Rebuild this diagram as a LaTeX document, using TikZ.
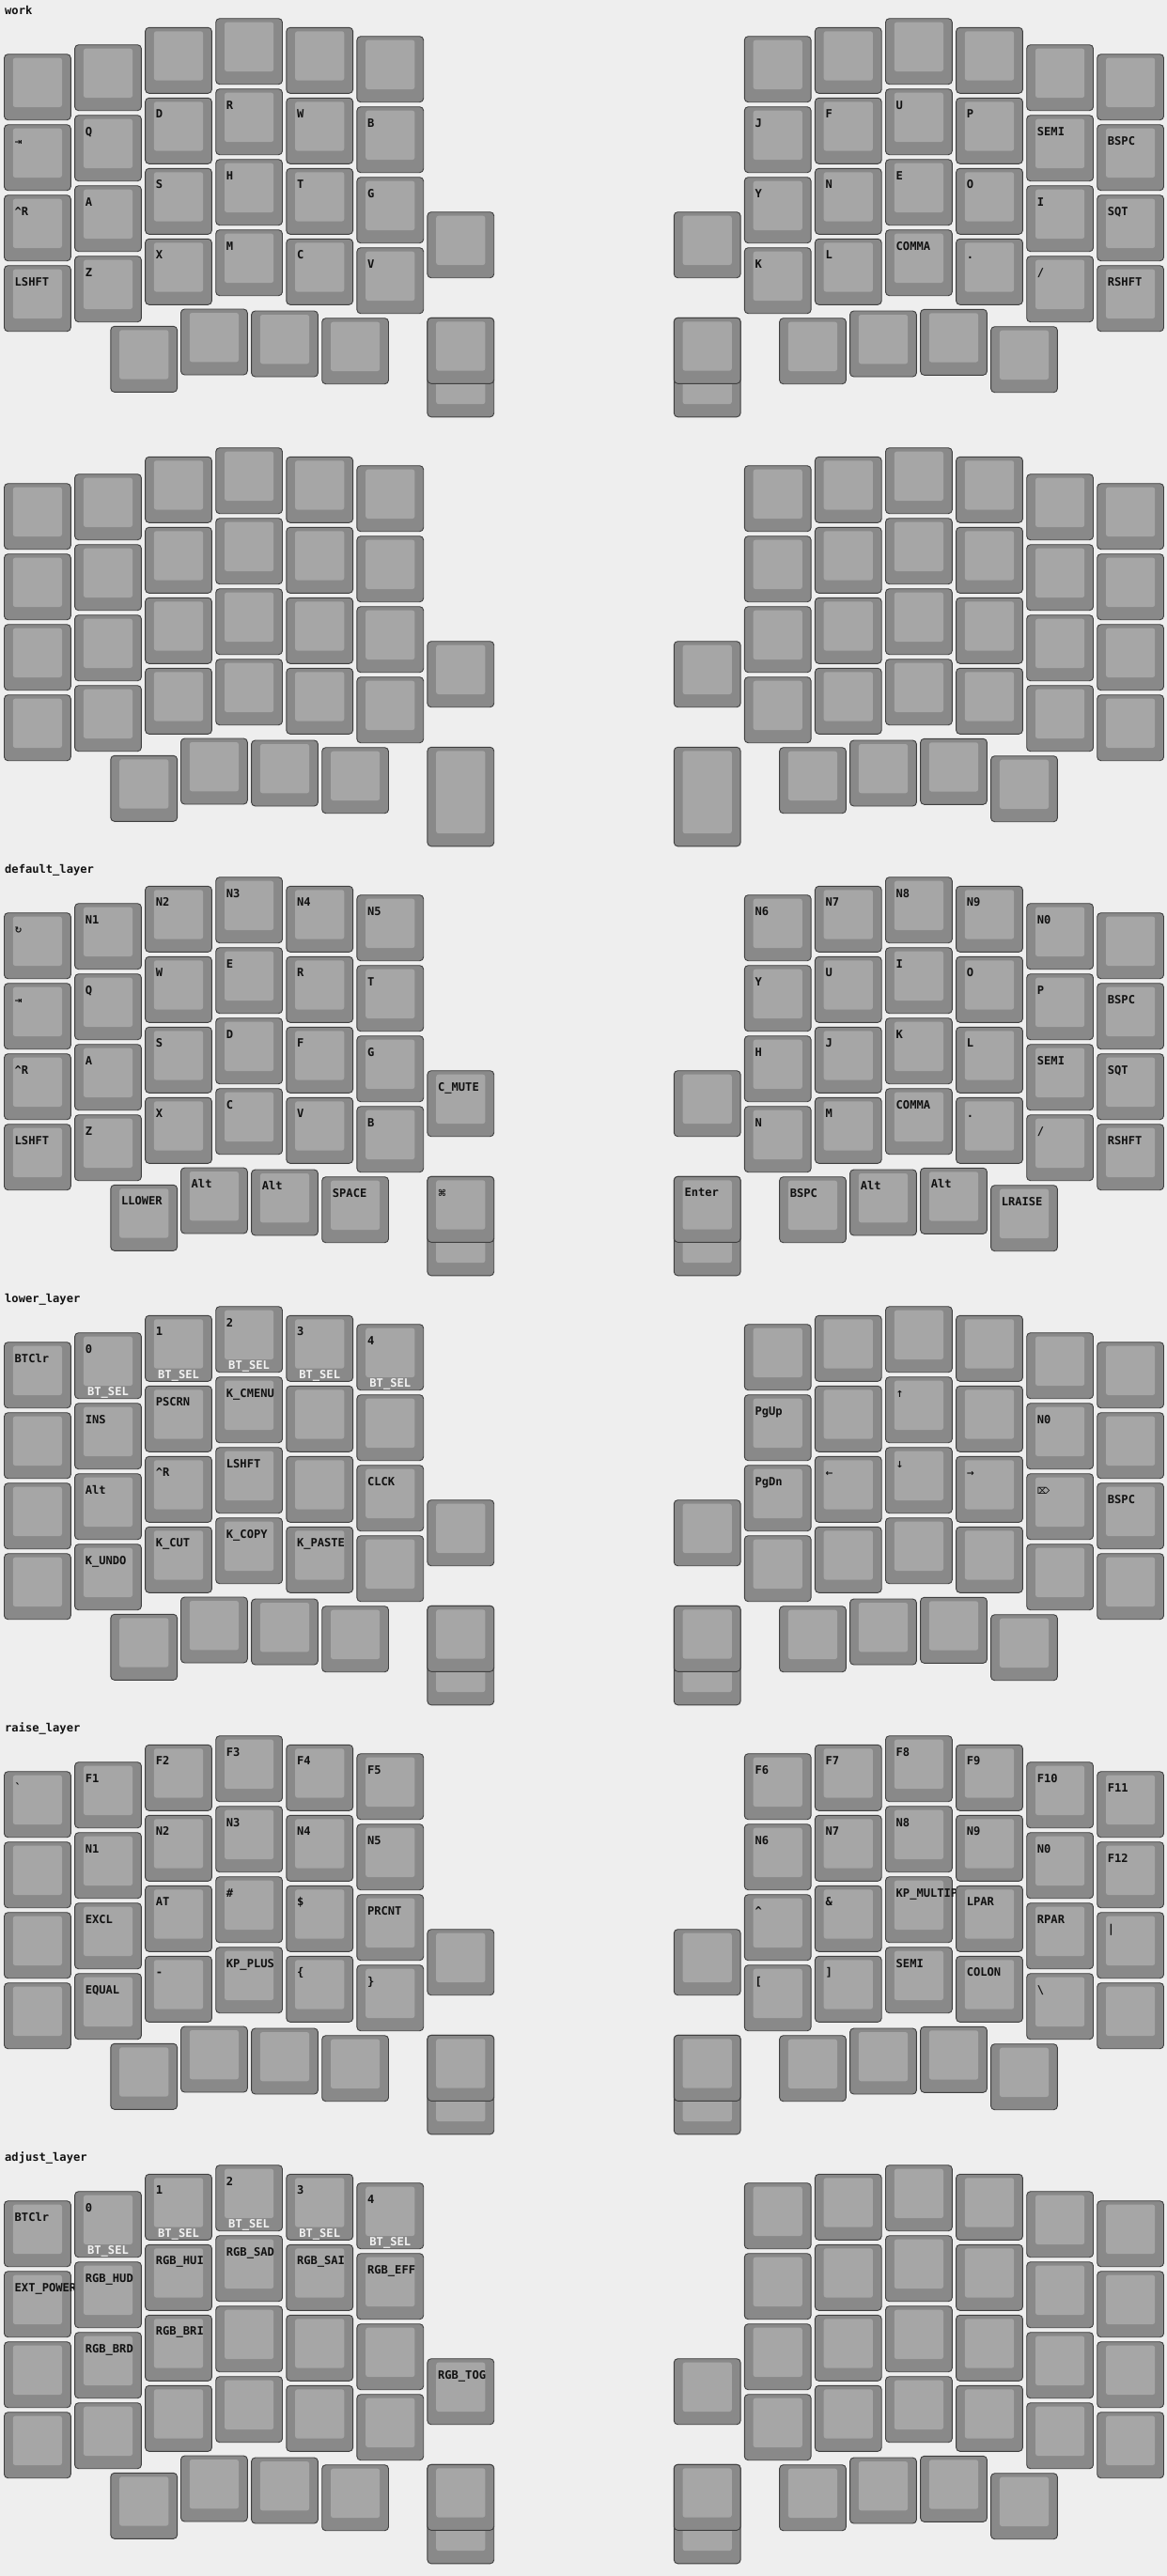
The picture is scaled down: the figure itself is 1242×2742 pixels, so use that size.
\documentclass[tikz,border=0pt]{standalone}
\usepackage{fontspec}
\newfontfamily\keyfont{DejaVu Sans Mono}
\newfontfamily\symfont{DejaVu Sans}
\definecolor{kbback}{HTML}{EEEEEE}
\definecolor{kbouter}{HTML}{898989}
\definecolor{kbinner}{HTML}{A6A6A6}
\definecolor{kbedge}{HTML}{404040}
\definecolor{kbtext}{HTML}{111111}
\definecolor{kbsel}{HTML}{F2F2F2}

\tikzset{
  keycap/.style={draw=kbedge, fill=kbouter, line width=0.9pt, rounded corners=4pt},
  keytop/.style={fill=kbinner, rounded corners=2.5pt},
  keylbl/.style={anchor=base west, inner sep=0pt, text=kbtext,
    font=\keyfont\bfseries\fontsize{12.1}{14}\selectfont},
  sellbl/.style={anchor=base, inner sep=0pt, text=kbsel,
    font=\keyfont\bfseries\fontsize{12.1}{14}\selectfont},
  layername/.style={anchor=base west, inner sep=0pt, text=kbtext,
    font=\keyfont\bfseries\fontsize{12.1}{14}\selectfont}
}

% one key: name, x, y, height, label
\newcommand{\keycap}[5]{%
  \draw[keycap] (#2,#3) rectangle ++(70.8,#4);
  \fill[keytop] (#2+9.3,#3+4) rectangle ++(52.2,#4-17.7);
  \node[keylbl] (#1) at (#2+11,#3+21.3) {#5};}
% four keys of a column
\newcommand{\keycol}[7]{%
  \keycap{#1-0}{#2}{#3}{70}{#4}%
  \keycap{#1-1}{#2}{#3+75}{70}{#5}%
  \keycap{#1-2}{#2}{#3+150}{70}{#6}%
  \keycap{#1-3}{#2}{#3+225}{70}{#7}}
% bluetooth profile tag under a key
\newcommand{\btsel}[3]{\node[sellbl] (#1) at (#2+35.4,#3+67) {BT\_SEL};}
% thumb keys: prefix, extra, four thumbs
\newcommand{\thumbsleft}[6]{%
  \keycap{#1-x}{454.9}{225.7}{70}{#2}%
  \keycap{#1-1}{117.8}{347.3}{70}{#3}%
  \keycap{#1-2}{192.5}{329}{70}{#4}%
  \keycap{#1-3}{267.6}{331}{70}{#5}%
  \keycap{#1-4}{342.7}{338.7}{70}{#6}%
  \keycap{#1-big}{454.9}{338.3}{105.5}{}}
\newcommand{\thumbsright}[6]{%
  \keycap{#1-x}{717.3}{225.7}{70}{#2}%
  \keycap{#1-1}{829.6}{338.7}{70}{#3}%
  \keycap{#1-2}{904.6}{331}{70}{#4}%
  \keycap{#1-3}{979.6}{329.3}{70}{#5}%
  \keycap{#1-4}{1054.6}{347.7}{70}{#6}%
  \keycap{#1-big}{717.3}{338.3}{105.5}{}}
\newcommand{\kbsym}[1]{{\symfont\fontsize{9.5}{10}\selectfont #1}}

\begin{document}
\begin{tikzpicture}[x=1pt, y=-1pt]
  \useasboundingbox (0,0) rectangle (1242,2742);
  \fill[kbback] (0,0) rectangle (1242,2742);

  % work
  \node[layername] (work) at (5,15) {work};
  \keycol{work-l0}{4.5}{57.7}{}{\kbsym{⇥}}{\textasciicircum R}{LSHFT}
  \keycol{work-l1}{79.6}{47.7}{}{Q}{A}{Z}
  \keycol{work-l2}{154.6}{29.3}{}{D}{S}{X}
  \keycol{work-l3}{229.7}{19.7}{}{R}{H}{M}
  \keycol{work-l4}{304.8}{29.3}{}{W}{T}{C}
  \keycol{work-l5}{379.9}{38.7}{}{B}{G}{V}
  \thumbsleft{work-lt}{}{}{}{}{}
  \keycap{work-lh}{454.9}{338.3}{70}{}
  \keycol{work-r0}{792.3}{38.7}{}{J}{Y}{K}
  \keycol{work-r1}{867.4}{29.3}{}{F}{N}{L}
  \keycol{work-r2}{942.5}{19.7}{}{U}{E}{COMMA}
  \keycol{work-r3}{1017.6}{29.3}{}{P}{O}{.}
  \keycol{work-r4}{1092.7}{47.7}{}{SEMI}{I}{/}
  \keycol{work-r5}{1167.7}{57.7}{}{BSPC}{SQT}{RSHFT}
  \thumbsright{work-rt}{}{}{}{}{}
  \keycap{work-rh}{717.3}{338.3}{70}{}

  % unnamed blank layer
  \begin{scope}[yshift=-457pt]
    \keycol{blank-l0}{4.5}{57.7}{}{}{}{}
    \keycol{blank-l1}{79.6}{47.7}{}{}{}{}
    \keycol{blank-l2}{154.6}{29.3}{}{}{}{}
    \keycol{blank-l3}{229.7}{19.7}{}{}{}{}
    \keycol{blank-l4}{304.8}{29.3}{}{}{}{}
    \keycol{blank-l5}{379.9}{38.7}{}{}{}{}
    \thumbsleft{blank-lt}{}{}{}{}{}
    \keycol{blank-r0}{792.3}{38.7}{}{}{}{}
    \keycol{blank-r1}{867.4}{29.3}{}{}{}{}
    \keycol{blank-r2}{942.5}{19.7}{}{}{}{}
    \keycol{blank-r3}{1017.6}{29.3}{}{}{}{}
    \keycol{blank-r4}{1092.7}{47.7}{}{}{}{}
    \keycol{blank-r5}{1167.7}{57.7}{}{}{}{}
    \thumbsright{blank-rt}{}{}{}{}{}
  \end{scope}

  % default_layer
  \begin{scope}[yshift=-914pt]
    \node[layername] (dflt) at (5,15) {default\_layer};
    \keycol{dflt-l0}{4.5}{57.7}{\kbsym{↻}}{\kbsym{⇥}}{\textasciicircum R}{LSHFT}
    \keycol{dflt-l1}{79.6}{47.7}{N1}{Q}{A}{Z}
    \keycol{dflt-l2}{154.6}{29.3}{N2}{W}{S}{X}
    \keycol{dflt-l3}{229.7}{19.7}{N3}{E}{D}{C}
    \keycol{dflt-l4}{304.8}{29.3}{N4}{R}{F}{V}
    \keycol{dflt-l5}{379.9}{38.7}{N5}{T}{G}{B}
    \thumbsleft{dflt-lt}{C\_MUTE}{LLOWER}{Alt}{Alt}{SPACE}
    \keycap{dflt-lh}{454.9}{338.3}{70}{\kbsym{⌘}}
    \keycol{dflt-r0}{792.3}{38.7}{N6}{Y}{H}{N}
    \keycol{dflt-r1}{867.4}{29.3}{N7}{U}{J}{M}
    \keycol{dflt-r2}{942.5}{19.7}{N8}{I}{K}{COMMA}
    \keycol{dflt-r3}{1017.6}{29.3}{N9}{O}{L}{.}
    \keycol{dflt-r4}{1092.7}{47.7}{N0}{P}{SEMI}{/}
    \keycol{dflt-r5}{1167.7}{57.7}{}{BSPC}{SQT}{RSHFT}
    \thumbsright{dflt-rt}{}{BSPC}{Alt}{Alt}{LRAISE}
    \keycap{dflt-rh}{717.3}{338.3}{70}{Enter}
  \end{scope}

  % lower_layer
  \begin{scope}[yshift=-1371pt]
    \node[layername] (lower) at (5,15) {lower\_layer};
    \keycol{lower-l0}{4.5}{57.7}{BTClr}{}{}{}
    \keycol{lower-l1}{79.6}{47.7}{0}{INS}{Alt}{K\_UNDO}
    \keycol{lower-l2}{154.6}{29.3}{1}{PSCRN}{\textasciicircum R}{K\_CUT}
    \keycol{lower-l3}{229.7}{19.7}{2}{K\_CMENU}{LSHFT}{K\_COPY}
    \keycol{lower-l4}{304.8}{29.3}{3}{}{}{K\_PASTE}
    \keycol{lower-l5}{379.9}{38.7}{4}{}{CLCK}{}
    \btsel{lower-s1}{79.6}{47.7}
    \btsel{lower-s2}{154.6}{29.3}
    \btsel{lower-s3}{229.7}{19.7}
    \btsel{lower-s4}{304.8}{29.3}
    \btsel{lower-s5}{379.9}{38.7}
    \thumbsleft{lower-lt}{}{}{}{}{}
    \keycap{lower-lh}{454.9}{338.3}{70}{}
    \keycol{lower-r0}{792.3}{38.7}{}{PgUp}{PgDn}{}
    \keycol{lower-r1}{867.4}{29.3}{}{}{\kbsym{←}}{}
    \keycol{lower-r2}{942.5}{19.7}{}{\kbsym{↑}}{\kbsym{↓}}{}
    \keycol{lower-r3}{1017.6}{29.3}{}{}{\kbsym{→}}{}
    \keycol{lower-r4}{1092.7}{47.7}{}{N0}{\kbsym{⌦}}{}
    \keycol{lower-r5}{1167.7}{57.7}{}{}{BSPC}{}
    \thumbsright{lower-rt}{}{}{}{}{}
    \keycap{lower-rh}{717.3}{338.3}{70}{}
  \end{scope}

  % raise_layer
  \begin{scope}[yshift=-1828pt]
    \node[layername] (raise) at (5,15) {raise\_layer};
    \keycol{raise-l0}{4.5}{57.7}{\textasciigrave}{}{}{}
    \keycol{raise-l1}{79.6}{47.7}{F1}{N1}{EXCL}{EQUAL}
    \keycol{raise-l2}{154.6}{29.3}{F2}{N2}{AT}{-}
    \keycol{raise-l3}{229.7}{19.7}{F3}{N3}{\#}{KP\_PLUS}
    \keycol{raise-l4}{304.8}{29.3}{F4}{N4}{\$}{\{}
    \keycol{raise-l5}{379.9}{38.7}{F5}{N5}{PRCNT}{\}}
    \thumbsleft{raise-lt}{}{}{}{}{}
    \keycap{raise-lh}{454.9}{338.3}{70}{}
    \keycol{raise-r0}{792.3}{38.7}{F6}{N6}{\textasciicircum}{[}
    \keycol{raise-r1}{867.4}{29.3}{F7}{N7}{\&}{]}
    \keycol{raise-r2}{942.5}{19.7}{F8}{N8}{KP\_MULTIPLY}{SEMI}
    \keycol{raise-r3}{1017.6}{29.3}{F9}{N9}{LPAR}{COLON}
    \keycol{raise-r4}{1092.7}{47.7}{F10}{N0}{RPAR}{\textbackslash}
    \keycol{raise-r5}{1167.7}{57.7}{F11}{F12}{|}{}
    \thumbsright{raise-rt}{}{}{}{}{}
    \keycap{raise-rh}{717.3}{338.3}{70}{}
  \end{scope}

  % adjust_layer
  \begin{scope}[yshift=-2285pt]
    \node[layername] (adjust) at (5,15) {adjust\_layer};
    \keycol{adjust-l0}{4.5}{57.7}{BTClr}{EXT\_POWER EP\_TOG}{}{}
    \keycol{adjust-l1}{79.6}{47.7}{0}{RGB\_HUD}{RGB\_BRD}{}
    \keycol{adjust-l2}{154.6}{29.3}{1}{RGB\_HUI}{RGB\_BRI}{}
    \keycol{adjust-l3}{229.7}{19.7}{2}{RGB\_SAD}{}{}
    \keycol{adjust-l4}{304.8}{29.3}{3}{RGB\_SAI}{}{}
    \keycol{adjust-l5}{379.9}{38.7}{4}{RGB\_EFF}{}{}
    \btsel{adjust-s1}{79.6}{47.7}
    \btsel{adjust-s2}{154.6}{29.3}
    \btsel{adjust-s3}{229.7}{19.7}
    \btsel{adjust-s4}{304.8}{29.3}
    \btsel{adjust-s5}{379.9}{38.7}
    \thumbsleft{adjust-lt}{RGB\_TOG}{}{}{}{}
    \keycap{adjust-lh}{454.9}{338.3}{70}{}
    \keycol{adjust-r0}{792.3}{38.7}{}{}{}{}
    \keycol{adjust-r1}{867.4}{29.3}{}{}{}{}
    \keycol{adjust-r2}{942.5}{19.7}{}{}{}{}
    \keycol{adjust-r3}{1017.6}{29.3}{}{}{}{}
    \keycol{adjust-r4}{1092.7}{47.7}{}{}{}{}
    \keycol{adjust-r5}{1167.7}{57.7}{}{}{}{}
    \thumbsright{adjust-rt}{}{}{}{}{}
    \keycap{adjust-rh}{717.3}{338.3}{70}{}
  \end{scope}
\end{tikzpicture}
\end{document}
